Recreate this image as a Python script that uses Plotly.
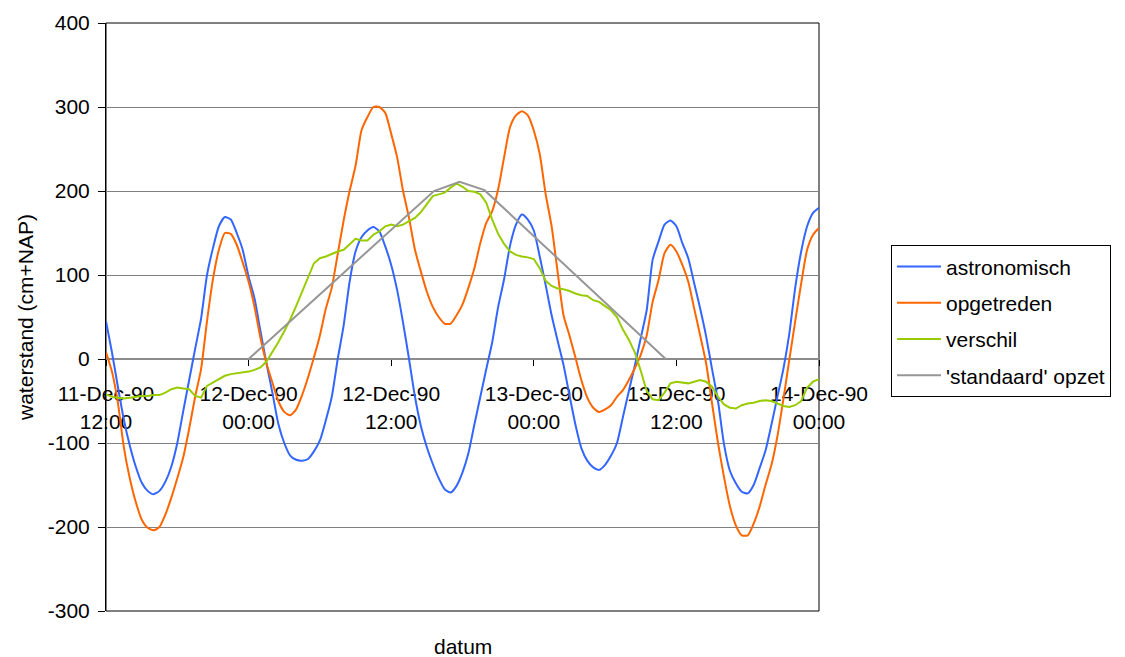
import pandas as pd
import plotly.graph_objects as go

# Half-hourly sample times, 11-Dec-90 12:00 .. 14-Dec-90 00:00
times = pd.date_range("1990-12-11 12:00", "1990-12-14 00:00", freq="30min")

# water levels in cm+NAP
astronomisch = [
    45, 8, -33, -72, -103, -128, -147, -157, -161, -157,
    -146, -128, -100, -62, -25, 12, 48, 100, 132, 158,
    169, 166, 150, 130, 98, 72, 33, -5, -40, -77,
    -100, -115, -120, -121, -119, -110, -97, -73, -45, 0,
    40, 92, 128, 145, 153, 157, 152, 134, 112, 82,
    43, 0, -45, -80, -105, -125, -142, -155, -159, -151,
    -135, -112, -78, -45, -12, 20, 62, 95, 135, 160,
    172, 166, 153, 122, 88, 52, 22, -7, -43, -78,
    -106, -121, -129, -132, -126, -115, -100, -69, -38, -8,
    25, 58, 118, 140, 160, 165, 158, 138, 120, 90,
    60, 27, -12, -50, -101, -133, -148, -158, -160, -150,
    -130, -109, -78, -45, -12, 30, 85, 128, 158, 174,
    180,
]

opgetreden = [
    8, -15, -52, -105, -142, -170, -191, -201, -204, -200,
    -185, -165, -142, -117, -83, -45, -12, 45, 95, 130,
    150, 149, 136, 115, 92, 62, 25, -5, -28, -50,
    -63, -67, -60, -43, -22, 2, 28, 60, 85, 125,
    165, 200, 230, 272, 288, 300, 300, 293, 268, 240,
    200, 168, 130, 104, 80, 62, 50, 42, 42, 52,
    65, 85, 108, 138, 162, 176, 202, 240, 276, 290,
    295, 290, 272, 244, 196, 158, 104, 52, 28, 2,
    -25, -46, -58, -63, -60, -55, -45, -37, -25, -11,
    5, 28, 68, 94, 126, 136, 128, 112, 92, 60,
    28, -5, -53, -100, -140, -175, -198, -210, -210, -196,
    -176, -150, -126, -92, -48, -1, 45, 90, 130, 148,
    156,
]

verschil = [
    -42, -45, -46, -47, -46, -45, -44, -44, -43, -43,
    -40, -36, -34, -35, -36, -44, -46, -32, -28, -24,
    -20, -18, -17, -16, -15, -13, -10, -3, 8, 20,
    33, 47, 63, 80, 98, 114, 120, 122, 125, 128,
    130, 136, 143, 141, 141, 148, 152, 158, 160, 158,
    160, 164, 168, 175, 184, 194, 196, 198, 204, 209,
    205, 200, 199, 196, 186, 166, 149, 137, 128, 124,
    122, 121, 119, 108, 93, 87, 84, 83, 81, 78,
    76, 75, 70, 68, 63, 58, 50, 35, 23, 8,
    -14, -38, -48, -49, -40, -29, -27, -28, -29, -27,
    -25, -27, -33, -45, -54, -58, -59, -55, -53, -52,
    -50, -49, -50, -53, -56, -57, -55, -50, -34, -27,
    -24,
]

# 'standaard' opzet: breakpoints of the reference surge
opzet_times = ["1990-12-12 00:00", "1990-12-12 15:36", "1990-12-12 17:45",
               "1990-12-12 19:51", "1990-12-13 11:06"]
opzet_values = [0, 200, 211, 201, 0]

tick_times = ["1990-12-11 12:00", "1990-12-12 00:00", "1990-12-12 12:00",
              "1990-12-13 00:00", "1990-12-13 12:00", "1990-12-14 00:00"]
tick_labels = ["11-Dec-90<br>12:00", "12-Dec-90<br>00:00", "12-Dec-90<br>12:00",
               "13-Dec-90<br>00:00", "13-Dec-90<br>12:00", "14-Dec-90<br>00:00"]

y_ticks = [-300, -200, -100, 0, 100, 200, 300, 400]
y_labels = ["-300", "-200", "-100", "0", "100", "200", "300", "400"]

FONT = "Arial, 'Liberation Sans', sans-serif"

fig = go.Figure()
fig.add_trace(go.Scatter(x=times, y=astronomisch, name="astronomisch", mode="lines",
                         line=dict(color="#3366FF", width=2, shape="spline", smoothing=0.6),
                         legendgroup="a"))
fig.add_trace(go.Scatter(x=times, y=opgetreden, name="opgetreden", mode="lines",
                         line=dict(color="#FF6600", width=2, shape="spline", smoothing=0.6),
                         legendgroup="b"))
fig.add_trace(go.Scatter(x=times, y=verschil, name="verschil", mode="lines",
                         line=dict(color="#99CC00", width=2),
                         legendgroup="c"))
fig.add_trace(go.Scatter(x=opzet_times, y=opzet_values, name="'standaard' opzet", mode="lines",
                         line=dict(color="#969696", width=2),
                         legendgroup="d"))

fig.update_layout(
    width=1125, height=657,
    margin=dict(l=106, r=306, t=23, b=46),
    paper_bgcolor="white", plot_bgcolor="white",
    font=dict(family=FONT, size=21, color="black"),
    showlegend=True,
    legend=dict(x=1.101, y=0.622, xanchor="left", yanchor="top",
                bordercolor="black", borderwidth=1, bgcolor="white",
                font=dict(family=FONT, size=21, color="black"),
                tracegroupgap=6, itemwidth=44, traceorder="grouped"),
    xaxis=dict(
        type="date",
        range=["1990-12-11 12:00", "1990-12-14 00:00"],
        anchor="free", position=300 / 700,
        showline=True, linecolor="#8c8c8c", linewidth=2,
        ticks="outside", ticklen=6, tickcolor="black", tickwidth=1,
        tickvals=tick_times, ticktext=tick_labels,
        showgrid=False, zeroline=False, layer="below traces",
        ticklabelstandoff=10,
        tickfont=dict(family=FONT, size=21, color="black"),
    ),
    yaxis=dict(
        range=[-300, 400],
        tickvals=y_ticks, ticktext=y_labels,
        showgrid=True, gridcolor="#808080", gridwidth=1,
        zeroline=False,
        showline=True, linecolor="black", linewidth=1,
        ticks="outside", ticklen=7, tickcolor="black",
        ticklabelstandoff=4,
        tickfont=dict(family=FONT, size=21, color="black"),
        title=dict(text="waterstand (cm+NAP)", standoff=8,
                   font=dict(family=FONT, size=21, color="black")),
        layer="below traces",
    ),
    shapes=[dict(type="rect", xref="paper", yref="paper", x0=0, x1=1, y0=0, y1=1,
                 line=dict(color="black", width=1), layer="below")],
    annotations=[dict(text="datum", xref="paper", yref="paper", x=0.5, y=-0.0612,
                      xanchor="center", yanchor="middle", showarrow=False,
                      font=dict(family=FONT, size=21, color="black"))],
)

fig.write_html("out.html")
